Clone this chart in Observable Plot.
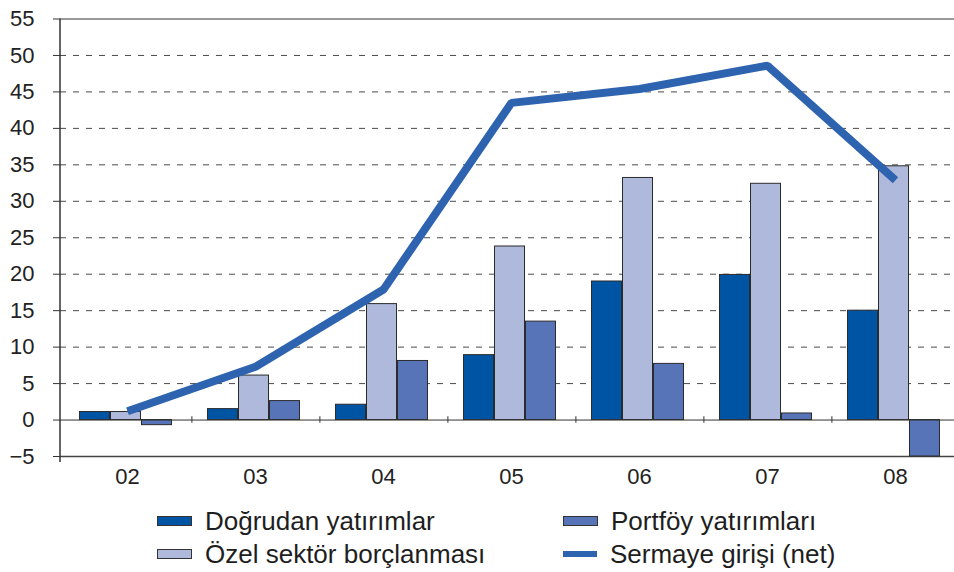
<!DOCTYPE html>
<html>
<head>
<meta charset="utf-8">
<script src="https://cdn.jsdelivr.net/npm/d3@7"></script>
<script src="https://cdn.jsdelivr.net/npm/@observablehq/plot@0.6"></script>
<style>
  body { margin: 0; background: #fff; font-family: "Liberation Sans", Arial, Helvetica, sans-serif; }
  #wrap { position: relative; width: 954px; height: 572px; overflow: hidden; }
  .leg { position: absolute; font-size: 26px; line-height: 30px; height: 30px; color: #1e1e1e; display: flex; align-items: center; white-space: nowrap; }
  .sw { width: 33px; height: 8px; border: 1px solid #333; margin-right: 13px; }
  .ln { width: 34px; height: 6px; margin-right: 13px; }
</style>
</head>
<body>
<div id="wrap"></div>
<script>
const categories = ["02", "03", "04", "05", "06", "07", "08"];
const dogrudan = [1.1, 1.5, 2.1, 8.9, 19.0, 19.9, 15.0];
const ozel = [1.1, 6.1, 15.9, 23.8, 33.2, 32.4, 34.8];
const portfoy = [-0.7, 2.6, 8.1, 13.5, 7.7, 0.9, -5.0];
const sermaye = [1.2, 7.3, 17.9, 43.5, 45.4, 48.6, 32.9];
const yTicks = [-5, 0, 5, 10, 15, 20, 25, 30, 35, 40, 45, 50, 55];
const seriesNames = ["Doğrudan yatırımlar", "Portföy yatırımları", "Özel sektör borçlanması", "Sermaye girişi (net)"];
const colors = {dogrudan: "#0054a4", ozel: "#aeb9db", portfoy: "#5874b8", sermaye: "#2e63b0"};

const rows = (vals) => categories.map((c, i) => ({cat: c, v: vals[i]}));

const barOpts = (fill, dx) => ({
  x: "cat", y: "v", fill, stroke: "#2b2b2b", strokeWidth: 1,
  insetLeft: 49, insetRight: 49, dx
});

const plot = Plot.plot({
  width: 954,
  height: 490,
  marginLeft: 60,
  marginRight: 0,
  marginTop: 18,
  marginBottom: 34,
  style: {fontSize: "22px", fontFamily: "'Liberation Sans', Arial, Helvetica, sans-serif", color: "#222", background: "#fff"},
  x: {domain: categories, range: [60, 962], padding: 0, label: null},
  y: {domain: [-5, 55], range: [456, 18.5], label: null},
  marks: [
    Plot.gridY(yTicks.filter(d => d > 0 && d < 55), {stroke: "#4a4a4a", strokeOpacity: 1, strokeDasharray: "6,7"}),
    Plot.ruleY([55], {stroke: "#777", strokeWidth: 1.5}),
    Plot.ruleY([-5], {stroke: "#444", strokeWidth: 1.5}),
    Plot.barY(rows(dogrudan), barOpts(colors.dogrudan, -32.5)),
    Plot.barY(rows(ozel), barOpts(colors.ozel, -1.5)),
    Plot.barY(rows(portfoy), barOpts(colors.portfoy, 29.5)),
    Plot.ruleY([0], {stroke: "#333", strokeWidth: 1}),
    Plot.ruleX(categories.slice(0, -1), {x: d => d, y1: -0.45, y2: 0.45, dx: 64.4, stroke: "#333"}),
    Plot.line(rows(sermaye), {x: "cat", y: "v", stroke: colors.sermaye, strokeWidth: 8, strokeLinecap: "butt", strokeLinejoin: "miter"}),
    Plot.axisY(yTicks, {tickSize: 7, tickPadding: 19, stroke: "#333", fill: "#222", label: null}),
    Plot.axisX({tickSize: 0, tickPadding: 12, fill: "#222", label: null})
  ]
});

// left axis line drawn from the y scale extent
const ys = plot.scale("y");
const xs = plot.scale("x");
const x0 = xs.range[0];
d3.select(plot).append("line")
  .attr("x1", x0).attr("x2", x0)
  .attr("y1", ys.apply(55)).attr("y2", ys.apply(-5) + 6)
  .attr("stroke", "#333").attr("stroke-width", 1.5);

const wrap = document.getElementById("wrap");
wrap.appendChild(plot);

const legendItems = [
  {name: seriesNames[0], color: colors.dogrudan, kind: "bar", left: 157, top: 506},
  {name: seriesNames[2], color: colors.ozel, kind: "bar", left: 157, top: 539},
  {name: seriesNames[1], color: colors.portfoy, kind: "bar", left: 563, top: 506},
  {name: seriesNames[3], color: colors.sermaye, kind: "line", left: 563, top: 539}
];
for (const it of legendItems) {
  const d = document.createElement("div");
  d.className = "leg";
  d.style.left = it.left + "px";
  d.style.top = it.top + "px";
  const s = document.createElement("span");
  s.className = it.kind === "bar" ? "sw" : "ln";
  s.style.background = it.color;
  d.appendChild(s);
  const t = document.createElement("span");
  t.textContent = it.name;
  d.appendChild(t);
  wrap.appendChild(d);
}
</script>
</body>
</html>
